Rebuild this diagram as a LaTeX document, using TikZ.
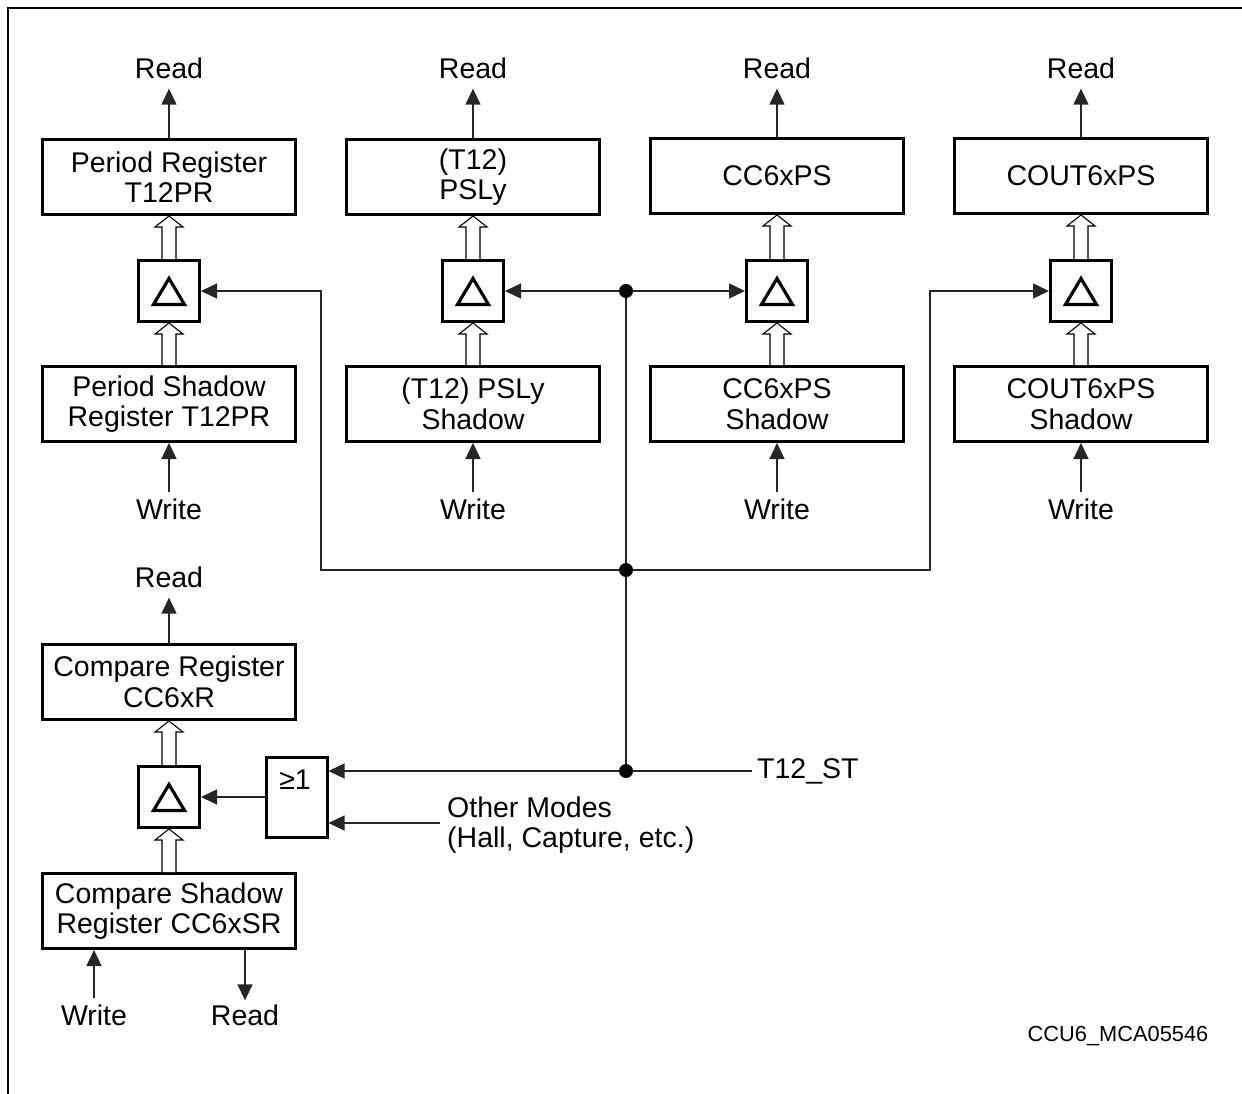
\documentclass[tikz,border=0pt]{standalone}
\usepackage{fontspec}
\setmainfont{Liberation Sans}
\usetikzlibrary{arrows.meta,calc}
\newcommand\hollowup[2]{%
  \draw[line width=1.1pt, fill=white, line join=miter]
    let \p1=(#1.north), \p2=(#2.south) in
    (\x1-7pt,\y1) -- (\x1-7pt,\y2-11pt) -- (\x1-14pt,\y2-11pt) -- (\x1,\y2)
    -- (\x1+14pt,\y2-11pt) -- (\x1+7pt,\y2-11pt) -- (\x1+7pt,\y1);}
\newcommand\deltri[1]{%
  \draw[line width=3.2pt, line join=miter]
    ([shift={(0,-12.5)}]#1.center) -- ([shift={(15.5,13.5)}]#1.center)
    -- ([shift={(-15.5,13.5)}]#1.center) -- cycle;}
\begin{document}
\begin{tikzpicture}[x=1pt,y=-1pt,
  every node/.style={font=\fontsize{28.5}{30.5}\selectfont},
  reg/.style={draw, line width=3pt, minimum width=253pt, minimum height=75pt, align=center, inner sep=0pt},
  dbox/.style={draw, line width=3pt, minimum width=61pt, minimum height=61pt, inner sep=0pt},
  gate/.style={draw, line width=3pt, minimum width=61pt, minimum height=80pt, inner sep=0pt},
  conn/.style={line width=1.4pt, draw=black!85},
  arr/.style={conn, -{Triangle[length=16pt,width=15pt]}},
  lbl/.style={inner sep=0pt}
]
\useasboundingbox (0,0) rectangle (1242,1094);
\draw[line width=1.4pt] (8,1094) -- (8,8) -- (1242,8);

% top registers
\node[reg] (pr) at (169,177) {Period Register\\T12PR};
\node[reg] (ps) at (473,177) {(T12)\\PSLy};
\node[reg] (cc) at (777,176) {CC6xPS};
\node[reg] (co) at (1081,176) {COUT6xPS};
% delta boxes
\node[dbox] (d1) at (169,291) {};
\node[dbox] (d2) at (473,291) {};
\node[dbox] (d3) at (777,291) {};
\node[dbox] (d4) at (1081,291) {};
\deltri{d1}\deltri{d2}\deltri{d3}\deltri{d4}
% shadow registers
\node[reg] (prs) at (169,404) {Period Shadow\\Register T12PR};
\node[reg] (pss) at (473,404) {(T12) PSLy\\Shadow};
\node[reg] (ccs) at (777,404) {CC6xPS\\Shadow};
\node[reg] (cos) at (1081,404) {COUT6xPS\\Shadow};
% read / write labels
\node[lbl] (r1) at (169,68) {Read};
\node[lbl] (r2) at (473,68) {Read};
\node[lbl] (r3) at (777,68) {Read};
\node[lbl] (r4) at (1081,68) {Read};
\node[lbl] (w1) at (169,509) {Write};
\node[lbl] (w2) at (473,509) {Write};
\node[lbl] (w3) at (777,509) {Write};
\node[lbl] (w4) at (1081,509) {Write};
\foreach \a/\b in {pr/r1,ps/r2,cc/r3,co/r4}
  \draw[arr, shorten >=10pt] (\a.north) -- (\b.south);
\foreach \a/\b in {w1/prs,w2/pss,w3/ccs,w4/cos}
  \draw[arr, shorten <=6pt] (\a.north) -- (\b.south);
\foreach \lo/\mid/\hi in {prs/d1/pr,pss/d2/ps,ccs/d3/cc,cos/d4/co}{
  \hollowup{\mid}{\hi}
  \hollowup{\lo}{\mid}
}

% compare section
\node[lbl] (r5) at (169,577) {Read};
\node[reg] (cr) at (169,682) {Compare Register\\CC6xR};
\node[dbox] (d5) at (169,797) {};
\deltri{d5}
\node[gate] (g) at (296.5,797) {};
\node[lbl] (gt) at (295,780) {≥1};
\node[reg] (csr) at (169,911) {Compare Shadow\\Register CC6xSR};
\node[lbl] (w5) at (94,1015) {Write};
\node[lbl] (r6) at (245,1015) {Read};
\draw[arr, shorten >=10pt] (cr.north) -- (r5.south);
\hollowup{d5}{cr}
\hollowup{csr}{d5}
\draw[arr, shorten <=6pt] (w5.north) -- (w5.north |- csr.south);
\draw[arr, shorten >=4pt] (r6.north |- csr.south) -- (r6.north);
\draw[arr] (g.west) -- (d5.east);

\node[lbl, anchor=base west] (t12) at (757,778) {T12\_ST};
\node[lbl, anchor=west, align=left] (om) at (447,825) {Other Modes\\(Hall, Capture, etc.)};
\node[font=\fontsize{21.8}{24}\selectfont, inner sep=0pt] (id) at (1118,1036) {CCU6\_MCA05546};

% control network
\coordinate (j1) at (626,291);
\coordinate (j2) at (626,570);
\coordinate (j3) at (626,771);
\coordinate (b1) at (321,570);
\coordinate (b2) at (930,570);
\coordinate (tin) at (752,771);
\coordinate (oin) at (440,823);
\draw[conn] (j1) -- (j3);
\draw[arr] (j1) -- (d2.east);
\draw[arr] (j1) -- (d3.west);
\draw[arr] (j2) -- (b1) -- (b1 |- d1.east) -- (d1.east);
\draw[arr] (j2) -- (b2) -- (b2 |- d4.west) -- (d4.west);
\draw[arr] (tin) -- (g.east |- tin);
\draw[arr] (oin) -- (g.east |- oin);
\foreach \j in {j1,j2,j3} \fill (\j) circle (7pt);
\end{tikzpicture}
\end{document}
